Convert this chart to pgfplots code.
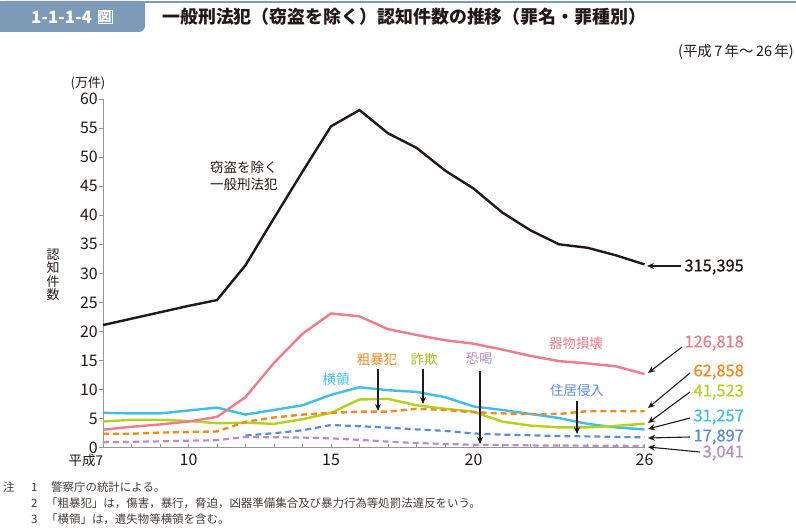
\documentclass[border=0pt]{standalone}
\usepackage{pgfplots}
\pgfplotsset{compat=1.18}
\usepackage{fontspec}
\setmainfont{Noto Sans CJK JP}
\newfontfamily\valfont[FakeBold=0.7]{Noto Sans CJK JP}
\usetikzlibrary{arrows.meta}
\definecolor{hdr}{RGB}{125,154,185}
\definecolor{axisgray}{RGB}{150,150,150}
\definecolor{blk}{RGB}{35,24,21}
\definecolor{pinkc}{RGB}{239,124,138}
\definecolor{cyanc}{RGB}{62,189,238}
\definecolor{yelc}{RGB}{180,210,28}
\definecolor{orac}{RGB}{242,138,30}
\definecolor{bluec}{RGB}{91,141,214}
\definecolor{purc}{RGB}{185,139,199}
\newcommand{\fs}[1]{\fontsize{#1}{#1}\selectfont}
\begin{document}
\begin{tikzpicture}[x=1bp,y=-1bp]
\useasboundingbox (0,0) rectangle (796,528);
% header
\fill[hdr,rounded corners=6bp] (0,1) rectangle (145,32);
\fill[hdr] (0,1) rectangle (20,32);
\fill[hdr] (120,1) rectangle (145,15);
\draw[hdr,line width=2.2bp] (130,2.2) -- (796,2.2);
\node[anchor=west,inner sep=0,text=white,font=\fs{17}\bfseries] at (31,17) {1-1-1-4};
\node[draw=white,line width=0.8bp,inner sep=0.6bp,text=white,font=\fs{13}\bfseries] at (105,17) {図};
\node[anchor=west,inner sep=0,text=blk,font=\fs{18}\bfseries] at (162,17) {一般刑法犯（窃盗を除く）認知件数の推移（罪名・罪種別）};
\node[anchor=east,inner sep=0,text=blk,font=\fs{14.5}] at (794,52) {(平成\,7\,年～\,26\,年)};
% axis
\begin{axis}[
  at={(103bp,-447.7bp)}, anchor=south west,
  scale only axis, width=541.5bp, height=348.7bp,
  xmin=7, xmax=26, ymin=0, ymax=60,
  axis x line*=bottom, axis y line*=left,
  axis line style={draw=axisgray, line width=1bp, -},
  tick align=outside,
  major tick length=4bp,
  tick style={draw=none},
  ytick={0,5,...,60},
  xtick={7,10,15,20,26},
  xticklabels={{\llap{{\fontsize{13.5}{13.5}\selectfont 平成7}}},10,15,20,26},
  ticklabel style={font=\fs{16}, text=blk, inner sep=1bp},
  xticklabel style={yshift=-1.5bp},
  /pgf/number format/assume math mode=true,
  clip=false,
]
\pgfplotsinvokeforeach{7,...,26}{\draw[axisgray,line width=0.8bp] (axis cs:#1,0) -- ++(0pt,4bp);}
\pgfplotsinvokeforeach{0,5,...,60}{\draw[axisgray,line width=0.8bp] (axis cs:7,#1) -- ++(-4bp,0pt);}
% 横領
\addplot[cyanc, line width=2.4bp] table {
x y
7 6.0
8 5.9
9 5.9
10 6.4
11 6.9
12 5.7
13 6.5
14 7.3
15 9.1
16 10.4
17 9.9
18 9.6
19 8.7
20 7.1
21 6.5
22 5.8
23 5.1
24 4.1
25 3.5
26 3.13
};
% 詐欺
\addplot[yelc, line width=2.4bp] table {
x y
7 4.5
8 4.8
9 4.8
10 4.6
11 4.2
12 4.3
13 4.1
14 4.9
15 6.0
16 8.3
17 8.4
18 7.3
19 6.7
20 6.2
21 4.5
22 3.8
23 3.5
24 3.5
25 3.75
26 4.15
};
% 住居侵入
\addplot[bluec, line width=2.2bp, dash pattern=on 6bp off 4bp] table {
x y
12 2.1
13 2.5
14 3.0
15 3.9
16 3.7
17 3.45
18 3.15
19 2.9
20 2.45
21 2.25
22 2.15
23 2.0
24 1.95
25 1.85
26 1.79
};
% 恐喝
\addplot[purc, line width=2.2bp, dash pattern=on 6bp off 4bp] table {
x y
7 0.95
8 1.0
9 1.1
10 1.2
11 1.3
12 1.85
13 1.8
14 1.75
15 1.6
16 1.35
17 1.05
18 0.8
19 0.65
20 0.5
21 0.45
22 0.4
23 0.38
24 0.35
25 0.33
26 0.30
};
% 粗暴犯
\addplot[orac, line width=2.4bp, dash pattern=on 6bp off 4bp] table {
x y
7 2.4
8 2.4
9 2.6
10 2.7
11 2.8
12 4.45
13 5.2
14 5.7
15 6.0
16 6.2
17 6.2
18 6.7
19 6.5
20 6.1
21 5.9
22 5.8
23 5.8
24 6.3
25 6.3
26 6.29
};
% 器物損壊
\addplot[pinkc, line width=2.4bp] table {
x y
7 3.1
8 3.6
9 4.0
10 4.5
11 5.3
12 8.7
13 14.6
14 19.6
15 23.1
16 22.6
17 20.4
18 19.4
19 18.5
20 17.9
21 16.9
22 15.8
23 14.9
24 14.5
25 14.0
26 12.68
};
% 窃盗を除く一般刑法犯
\addplot[blk, line width=2.4bp] table {
x y
7 21.1
8 22.2
9 23.3
10 24.4
11 25.4
12 31.4
13 39.5
14 47.5
15 55.3
16 58.1
17 54.1
18 51.6
19 47.7
20 44.6
21 40.5
22 37.4
23 35.0
24 34.4
25 33.1
26 31.54
};
\end{axis}
% axis annotations
\node[text=blk,font=\fs{13}] at (88,83) {(万件)};
\node[text=blk,font=\fontsize{13}{13.5}\selectfont,align=center,inner sep=0] at (53,275) {認\\知\\件\\数};
% series labels
\node[anchor=west,inner sep=0,text=blk,font=\fs{13.5}] at (210,167) {窃盗を除く};
\node[anchor=west,inner sep=0,text=blk,font=\fs{13.5}] at (210,184) {一般刑法犯};
\node[inner sep=0,text=pinkc,font=\fs{13.5}] at (576,343) {器物損壊};
\node[inner sep=0,text=cyanc,font=\fs{13.5}] at (336,379) {横領};
\node[inner sep=0,text=orac,font=\fs{13.5}] at (377,359) {粗暴犯};
\node[inner sep=0,text=yelc!90!black,font=\fs{13.5}] at (424,359) {詐欺};
\node[inner sep=0,text=purc,font=\fs{13.5}] at (479,359) {恐喝};
\node[inner sep=0,text=bluec,font=\fs{13.5}] at (577,390) {住居侵入};
\begin{scope}[blk,line width=1.1bp,-{Stealth[length=7bp,width=6bp]}]
\draw (378,369) -- (378,411);
\draw (423,369) -- (423,404);
\draw (480,371) -- (480,444);
\draw (577,401) -- (577,434);
% right side value arrows
\draw (681,266) -- (647,266);
\draw (682,347) -- (648,373);
\draw (690,373) -- (648,408);
\draw (690,392) -- (648,423);
\draw (690,418) -- (648,429);
\draw (690,437) -- (648,438);
\draw (700,452) -- (648,447);
\end{scope}
% value labels
\begin{scope}[inner sep=0,anchor=east,font=\fontsize{16.5}{16.5}\valfont]
\node[anchor=east,text=blk] at (744,267) {315,395};
\node[anchor=east,text=pinkc] at (744,343) {126,818};
\node[anchor=east,text=orac] at (744,372) {62,858};
\node[anchor=east,text=yelc] at (744,392) {41,523};
\node[anchor=east,text=cyanc] at (744,417) {31,257};
\node[anchor=east,text=bluec] at (744,437) {17,897};
\node[anchor=east,text=purc] at (744,453) {3,041};
\end{scope}
% notes
\begin{scope}[font=\fs{11.5},text=blk!85,inner sep=0,anchor=west]
\node[anchor=west] at (3,487) {注};
\node[anchor=west] at (31,487) {1};
\node[anchor=west] at (51,487) {警察庁の統計による。};
\node[anchor=west] at (31,503) {2};
\node[anchor=west] at (46,503) {「粗暴犯」は，傷害，暴行，脅迫，凶器準備集合及び暴力行為等処罰法違反をいう。};
\node[anchor=west] at (31,519) {3};
\node[anchor=west] at (46,519) {「横領」は，遺失物等横領を含む。};
\end{scope}
\end{tikzpicture}
\end{document}
